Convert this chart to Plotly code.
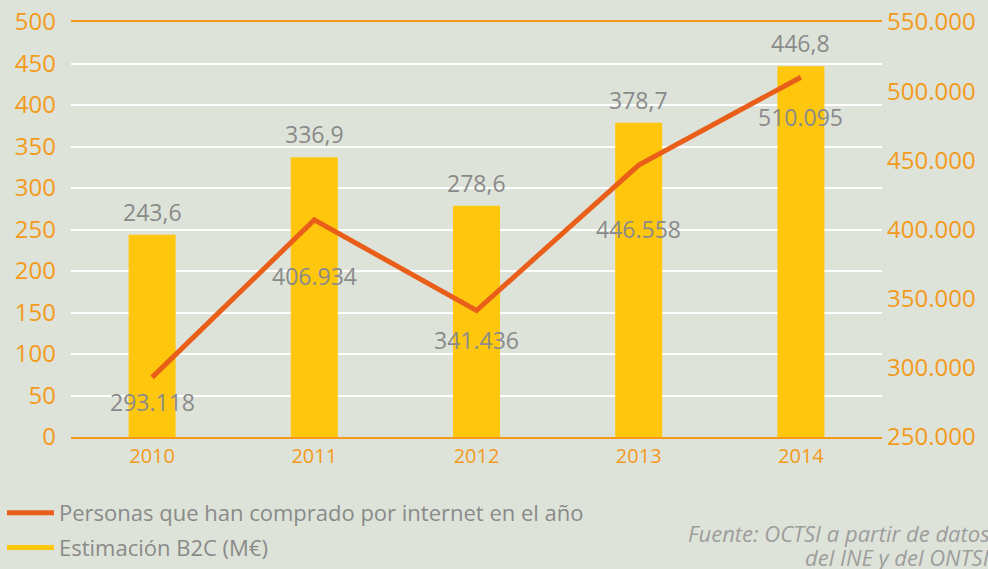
import plotly.graph_objects as go

years = ["2010", "2011", "2012", "2013", "2014"]
b2c = [243.6, 336.9, 278.6, 378.7, 446.8]
b2c_labels = ["243,6", "336,9", "278,6", "378,7", "446,8"]
personas = [293118, 406934, 341436, 446558, 510095]
personas_labels = ["293.118", "406.934", "341.436", "446.558", "510.095"]
left_ticks = [0, 50, 100, 150, 200, 250, 300, 350, 400, 450, 500]
right_ticks = [250000, 300000, 350000, 400000, 450000, 500000, 550000]
right_tick_labels = ["250.000", "300.000", "350.000", "400.000", "450.000", "500.000", "550.000"]

BG = "#dee3d9"
ORANGE = "#f39a1b"
YELLOW = "#fec70e"
LINE = "#e95f1a"
GREY = "#8a8a8a"
FONT = "Open Sans"
W, H = 988, 569
MB = 6            # bottom margin reserved for the legend's lower edge
PH = H - MB       # paper height in pixels

fig = go.Figure()
fig.add_trace(go.Bar(
    x=years, y=b2c, marker_color=YELLOW, width=0.29, marker_line_width=0,
    showlegend=False, yaxis="y", hoverinfo="skip"))
fig.add_trace(go.Scatter(
    x=years, y=personas, mode="lines", line=dict(color=LINE, width=5),
    yaxis="y2", showlegend=False, hoverinfo="skip"))
# legend entries (on a hidden pair of axes)
fig.add_trace(go.Scatter(x=[0], y=[None], mode="lines", line=dict(color=LINE, width=5),
                         name="Personas que han comprado por internet en el año", legendgroup="a",
                         xaxis="x3", yaxis="y3"))
fig.add_trace(go.Scatter(x=[0], y=[None], mode="lines", line=dict(color=YELLOW, width=5),
                         name="Estimación B2C (M€)", legendgroup="b",
                         xaxis="x3", yaxis="y3"))

# bar value labels (category index positions on the x axis)
for i, (v, t) in enumerate(zip(b2c, b2c_labels)):
    fig.add_annotation(x=i, y=v, xref="x", yref="y", text=t, showarrow=False, yshift=23,
                       yanchor="middle", font=dict(color=GREY, size=23, family=FONT))

# line value labels
label_shift = [-25, -56, -29, -64, -40]
for i, (v, t, s) in enumerate(zip(personas, personas_labels, label_shift)):
    fig.add_annotation(x=i, y=v, xref="x", yref="y2", text=t, showarrow=False, yshift=s,
                       yanchor="middle", font=dict(color=GREY, size=23, family=FONT))

src_lines = ["Fuente: OCTSI a partir de datos", "del INE y del ONTSI"]
for txt, ypx in zip(src_lines, [533, 557]):
    fig.add_annotation(xref="paper", yref="paper", x=992 / W, y=1 - ypx / PH,
                       xanchor="right", yanchor="middle", showarrow=False,
                       text="<i>%s</i>" % txt,
                       font=dict(color="#9d9d9d", size=22, family=FONT))

fig.update_layout(
    width=W, height=H,
    paper_bgcolor=BG, plot_bgcolor=BG,
    margin=dict(l=0, r=0, t=0, b=MB),
    font=dict(family=FONT, color=ORANGE),
    xaxis=dict(type="category", domain=[71 / W, 882 / W], showline=True, linecolor=ORANGE,
               linewidth=2, mirror=True, automargin=False, fixedrange=True,
               tickfont=dict(color=ORANGE, size=20), ticks="", showgrid=False),
    yaxis=dict(range=[0, 500], domain=[1 - 437 / PH, 1 - 22 / PH], tickvals=left_ticks,
               showgrid=True, gridcolor="white", gridwidth=2, automargin=False,
               zeroline=False, tickfont=dict(color=ORANGE, size=24), ticklabelstandoff=14,
               fixedrange=True),
    yaxis2=dict(range=[250000, 550000], overlaying="y", side="right", tickvals=right_ticks,
                ticktext=right_tick_labels, showgrid=False, zeroline=False, automargin=False,
                tickfont=dict(color=ORANGE, size=24), ticklabelstandoff=4, fixedrange=True),
    xaxis3=dict(visible=False, domain=[0, 0.01], anchor="y3"),
    yaxis3=dict(visible=False, domain=[0, 0.01], anchor="x3"),
    legend=dict(x=2 / W, y=-MB / PH, xanchor="left", yanchor="bottom", bgcolor="rgba(0,0,0,0)",
                font=dict(color=GREY, size=22, family=FONT), itemwidth=47, tracegroupgap=3),
    hovermode=False,
)

fig.write_html("out.html", config={"displayModeBar": False},
               post_script="document.body.style.margin='0';document.body.style.background='%s';" % BG)
